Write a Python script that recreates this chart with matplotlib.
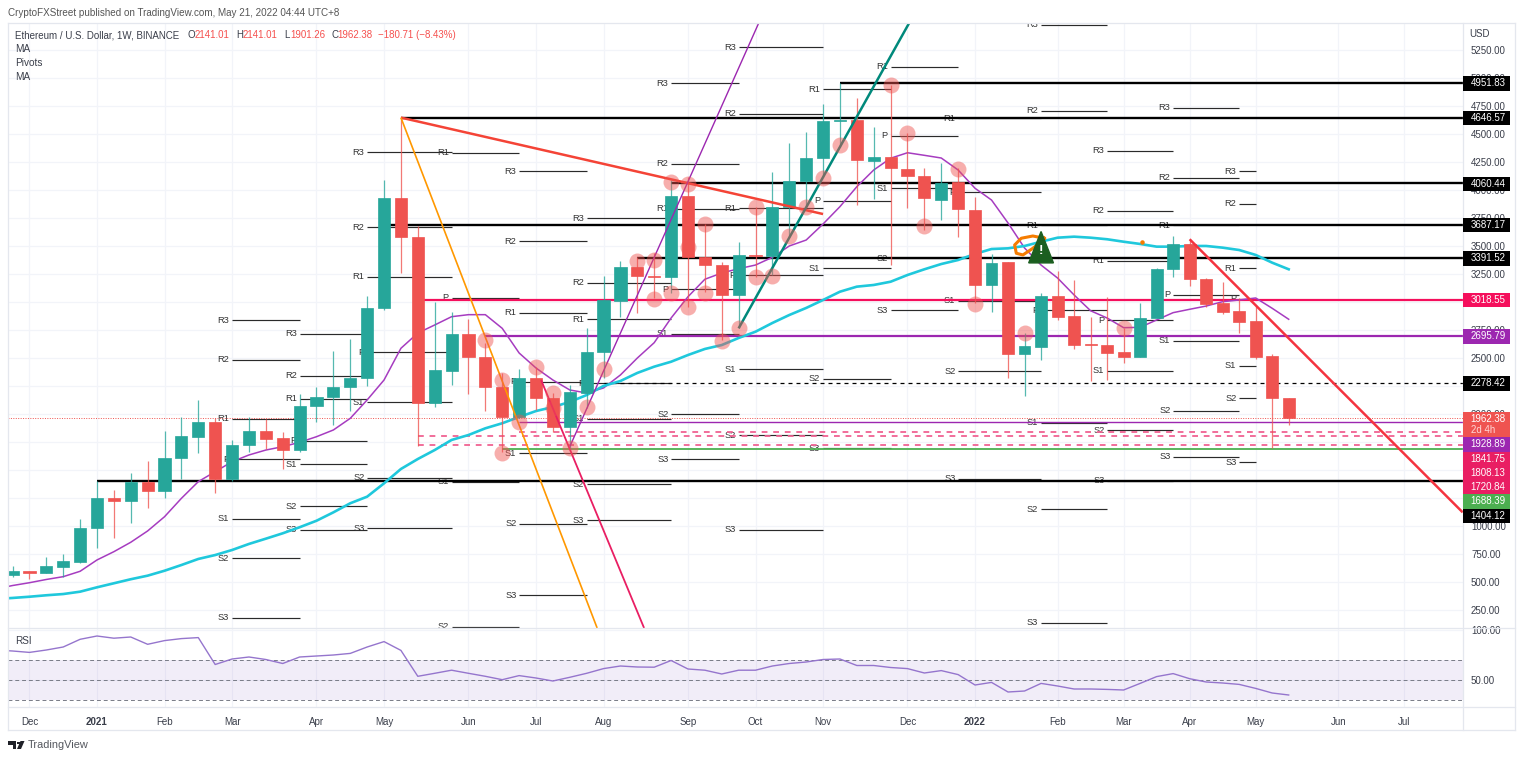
import numpy as np
import matplotlib
matplotlib.use("Agg")
import matplotlib.pyplot as plt
from matplotlib.patches import Rectangle, Polygon
from matplotlib.lines import Line2D

plt.rcParams['font.family'] = ['Liberation Sans', 'DejaVu Sans']

# ---------- weekly candles (week 0 = 30 Nov 2020) ----------
opens = [568,603,585,639,681,982,1252,1228,1395,1312,1609,1796,1933,1422,1722,1850,1785,1683,2076,2151,2240,2320,2945,3929,3584,2097,2388,2713,2508,2245,1978,2320,2142,1888,2186,2552,3010,3311,3236,3227,3950,3405,3329,3061,3421,3412,3846,4078,4286,4616,4623,4259,4292,4191,4126,3911,4069,3825,3150,3355,2537,2602,3055,2876,2624,2615,2555,2513,2856,3293,3516,3204,2990,2921,2829,2522,2141.01]
highs = [643,603,723,752,1062,1404,1321,1472,1582,1850,1978,2127,1969,1767,1972,1954,1838,2177,2240,2564,2674,3055,4090,4646,3677,3004,2909,2852,2635,2368,2403,2424,2186,2260,2766,3233,3367,3405,3436,4090,4119,3697,3361,3534,3852,4159,4417,4521,4768,4951,4819,4565,4938,4507,4200,4239,4194,3941,3430,3355,2722,3079,3280,3197,2870,3048,2769,2990,3307,3590,3561,3218,3182,3034,2974,2537,2141.01]
lows = [550,529,585,550,675,809,898,1026,1160,1249,1422,1656,1294,1404,1663,1687,1511,1663,1930,1903,2031,2254,2932,3263,1719,2067,2260,2177,2031,1665,1966,2037,1844,1680,2055,2323,2870,2900,3034,3084,2959,3093,2662,2766,3227,3242,3584,3852,4119,4387,3867,3918,3331,3837,3644,3733,3584,2990,2909,2320,2165,2484,2841,2579,2296,2305,2454,2508,2856,3227,3147,2959,2894,2722,2490,1696,1901.26]
closes = [603,585,643,687,984,1252,1228,1395,1312,1612,1808,1933,1422,1725,1850,1781,1683,2076,2151,2240,2320,2950,3929,3584,2097,2394,2713,2508,2243,1978,2320,2142,1888,2195,2552,3019,3311,3236,3227,3950,3400,3329,3061,3418,3412,3846,4084,4286,4616,4625,4268,4292,4197,4128,3927,4060,3828,3150,3347,2537,2608,3055,2870,2617,2615,2549,2513,2861,3296,3516,3204,2986,2915,2820,2513,2142,1962.38]

# moving averages, first value belongs to week -1
ma_short = [440,471,496,525,550,598,699,773,857,958,1085,1249,1398,1487,1576,1636,1680,1710,1749,1799,1859,1963,2127,2305,2588,2724,2796,2870,2888,2888,2766,2546,2412,2305,2216,2189,2234,2350,2501,2638,2858,3048,3204,3260,3298,3331,3400,3501,3554,3697,3852,4030,4179,4284,4333,4310,4286,4179,4016,3911,3706,3483,3331,3215,3064,2923,2858,2772,2775,2841,2906,2936,2965,3004,3019,3037,2945,2847]
ma_long = [351,360,371,384,395,416,455,491,527,559,603,654,708,743,788,842,889,937,991,1049,1124,1205,1264,1383,1511,1600,1680,1770,1814,1874,1919,1975,2028,2064,2109,2171,2252,2296,2368,2424,2468,2528,2582,2617,2680,2736,2814,2885,2948,3019,3093,3138,3153,3182,3242,3293,3340,3376,3430,3474,3480,3501,3539,3575,3584,3575,3561,3539,3519,3495,3495,3501,3501,3486,3465,3421,3352,3293]
rsi_values = [80,79,77.6,80,83,90.7,94,91.8,93,85.7,89.4,91.4,92.4,65.5,71,73,70.5,66.5,73,74,75,76.6,83,88.4,79.6,53.7,56.7,59.8,56.7,53.7,50.3,54.4,52,49,52.7,56.7,61.4,64,63,62.8,69.5,61,59.8,56,59.8,59.8,64,66.5,68,70.5,71,64.5,64.5,62.5,61.4,57,59.4,55.4,45,47.6,38,39,46.6,44,41,41,40.6,40,46.6,53.4,56.4,51.3,48,47,45.6,41.6,37,35]

# ---------- pivots: one column per period ----------
pivot_weeks = [13,17,21,26,30,34,39,43,48,52,56,61,65,69,73,74]
pivot_r3 = [2838,2718,4337,None,4167,3748,4953,5274,None,None,None,5476,4349,4735,4170]
pivot_r2 = [2484,2343,3668,None,3543,3171,4235,4681,5509,None,None,4706,3816,4108,3878]
pivot_r1 = [1957,2136,3227,4333,2903,2849,3831,3837,4899,5101,4643,3688,3370,3688,3302]
pivot_p = [1597,1761,2552,3037,2290,2276,3114,3242,3905,4483,3980,2927,2838,3066,3028]
pivot_s1 = [1065,1553,2106,1398,1651,1957,2718,2403,3302,4016,3013,1924,2388,2656,2433]
pivot_s2 = [714,1178,1431,104,1020,1374,1999,1814,2314,3391,2385,1151,1856,2031,2142]
pivot_s3 = [184,969,982,None,386,1053,1597,969,1696,2927,1424,139,1404,1618,1571]

# ---------- horizontal levels ----------
level_prices = [4951.83,4646.57,4060.44,3687.17,3391.52,1404.12,3018.55,2695.79,1928.89,1688.39]
level_starts = [49,23,39,22,37,5,24,28,30,29]
level_colors = ['#000000']*6 + ['#f50f5c','#9c27b0','#9c27b0','#4caf50']
level_widths = [1.7]*6 + [1.6,1.6,1.0,1.3]
dashed_prices = [2278.42,1841.75,1808.13,1720.84]
dashed_starts = [35,30,24,24]
dashed_colors = ['#000000','#f06292','#f06292','#f06292']
last_close = 1962.38

# ---------- trend lines: (week, price) pairs ----------
trend_red1 = ([23,48],[4646.57,3786])
trend_orange = ([23,34.62],[4646.57,92])
trend_purple = ([33,44.2],[1710,5494])
trend_pink = ([31.3,37.4],[2305,92])
trend_teal = ([43,53.1],[2766,5491])
trend_red2 = ([70,86.54],[3561,1124])

# alert circles
alert_weeks = [28,29,29,31,30,32,32,33,34,35,37,38,38,39,39,40,40,40,41,41,42,43,44,44,45,46,47,48,49,52,53,54,56,57,60,66]
alert_prices = [2662,2305,1654,2424,1933,2186,2055,1696,2067,2400,3367,3376,3028,3079,4075,4054,3495,2959,3697,3079,2656,2766,3846,3227,3233,3590,3846,4110,4402,4935,4507,3682,4185,2981,2727,2772]

doodle_weeks = [61.2,60.5,59.8,59.4,59.5,59.9,60.5,61,61.2]
doodle_prices = [3570,3590,3570,3510,3436,3421,3480,3539,3570]

month_weeks = [1,5,9,13,18,22,27,31,35,40,44,48,53,57,62,66,70,74,79,83]
month_labels = ['Dec','2021','Feb','Mar','Apr','May','Jun','Jul','Aug','Sep','Oct','Nov','Dec','2022','Feb','Mar','Apr','May','Jun','Jul']
price_ticks = list(range(250,5251,250))
covered_ticks = [1250,1500,1750,2250]

tag_labels = ['4951.83','4646.57','4060.44','3687.17','3391.52','3018.55','2695.79','2278.42','1928.89','1841.75','1808.13','1720.84','1688.39','1404.12']
tag_colors = ['#000000','#000000','#000000','#000000','#000000','#f50f5c','#9c27b0','#000000','#9c27b0','#e91e63','#e91e63','#e91e63','#4caf50','#000000']
tag_rows = [83.4,117.8,184,225,258.3,300.3,336.3,383.3,444.3,459,473,487.3,501.3,515.8]

# ---------- layout ----------
W, H = 1536, 760
L, R, T, M, B = 8, 1462.7, 23, 628, 707
UP, DOWN = '#26a69a', '#ef5350'
GRID = '#f2f4f9'
EDGE = '#e4e7ee'
TXT = '#3a3e4a'
FS = 7.0

fig = plt.figure(figsize=(W/100, H/100), dpi=100, facecolor='white')
ax = fig.add_axes([L/W, 1-M/H, (R-L)/W, (M-T)/H], zorder=1)
rsi = fig.add_axes([L/W, 1-B/H, (R-L)/W, (B-M)/H], zorder=0)

# the pane's time axis runs a little faster after January 2022
knot_w = np.array([-10., 57., 100.])
knot_x = np.array([-156.4, 975., 975+43*16.51])
def fwd(v): return np.interp(v, knot_w, knot_x)
def inv(v): return np.interp(v, knot_x, knot_w)
for a in (ax, rsi):
    a.set_xscale('function', functions=(fwd, inv))
    a.set_xlim(-0.27, 86.54)
    a.set_xticks(month_weeks)
    a.minorticks_off()
    a.grid(True, color=GRID, lw=0.9)
    a.set_axisbelow(True)
    for s in a.spines.values():
        s.set_visible(False)
    a.yaxis.tick_right()
    a.tick_params(axis='both', length=0, labelcolor=TXT, labelsize=FS)

ax.set_ylim((638.3-M)/0.11206, (638.3-T)/0.11206)
ax.set_yticks(price_ticks)
ax.set_yticklabels(['' if v in covered_ticks else f'{v:.2f}' for v in price_ticks])
ax.tick_params(axis='y', pad=6)
ax.tick_params(axis='x', labelbottom=False)

weeks = np.arange(len(closes))
o, h, l, c = map(np.array, (opens, highs, lows, closes))
cols = [UP if x >= y else DOWN for x, y in zip(c, o)]
ax.vlines(weeks, l, h, colors=cols, lw=0.9, alpha=0.78, zorder=3)
ax.bar(weeks, np.abs(c-o), bottom=np.minimum(o, c), width=0.72, color=cols, edgecolor=cols, lw=0.5, zorder=3.1)

ma_w = np.arange(-1, len(closes))
ax.plot(ma_w, ma_short, color='#a63cc0', lw=1.1, zorder=2.5)
ax.plot(ma_w, ma_long, color='#1fc8dc', lw=1.9, zorder=2.5)

for p, s, col, lw in zip(level_prices, level_starts, level_colors, level_widths):
    ax.hlines(p, s, 86.54, colors=col, lw=lw, zorder=2.2)
for p, s, col, lw in zip(dashed_prices, dashed_starts, dashed_colors, [0.9,1.3,1.3,1.3]):
    ax.hlines(p, s, 86.54, colors=col, lw=lw, linestyles=(0, (3.2, 3.2)), zorder=2.2)
ax.axhline(last_close, color=DOWN, lw=0.7, ls=(0, (1, 1.5)), zorder=2.2)

for name, values in [('R3',pivot_r3),('R2',pivot_r2),('R1',pivot_r1),('P',pivot_p),('S1',pivot_s1),('S2',pivot_s2),('S3',pivot_s3)]:
    for k, v in enumerate(values):
        if v is None:
            continue
        ax.hlines(v, pivot_weeks[k], pivot_weeks[k+1], colors='#2a2a2a', lw=0.85, zorder=2)
        ax.annotate(name, (pivot_weeks[k], v), xytext=(-2.0, 0), textcoords='offset points',
                    ha='right', va='center', fontsize=6.7, color='#333333',
                    annotation_clip=False, clip_on=True, zorder=2)

for t, col, lw in [(trend_red1,'#f44336',1.8),(trend_orange,'#ff9800',1.2),(trend_purple,'#9c27b0',1.0),
                   (trend_pink,'#e91e63',1.3),(trend_teal,'#00897b',1.8),(trend_red2,'#f4333f',1.8)]:
    ax.plot(t[0], t[1], color=col, lw=lw, zorder=4, solid_capstyle='butt')

ax.scatter(alert_weeks, alert_prices, s=132, color='#ef5350', alpha=0.47, lw=0, zorder=5)
ax.plot(doodle_weeks, doodle_prices, color='#f57c00', lw=2.2, zorder=5)
ax.scatter([67.1], [3539], s=5, color='#f57c00', zorder=5)
ax.add_patch(Polygon([(61, 3630), (60.25, 3350), (61.75, 3350)], closed=True, color='#1b5e20', zorder=5.5))
ax.text(61, 3458, '!', color='white', fontsize=9.5, fontweight='bold', ha='center', va='center', zorder=6)
ax.add_patch(Rectangle((1.0, 1-0.012), 0.04, 0.012, transform=ax.transAxes, color='white', clip_on=False, zorder=10))

# RSI pane
rsi.set_ylim(23, 102)
rsi.set_yticks([50, 100])
rsi.set_yticklabels(['50.00', '100.00'])
rsi.tick_params(axis='y', pad=6)
rsi.set_xticklabels(month_labels)
rsi.tick_params(axis='x', pad=7)
for lab, txt in zip(rsi.get_xticklabels(), month_labels):
    if txt.isdigit():
        lab.set_fontweight('bold')
rsi.axhspan(30, 70, color='#7e57c2', alpha=0.1, lw=0)
for lv in (70, 50, 30):
    rsi.axhline(lv, color='#787b86', lw=0.7, ls=(0, (4, 3)))
rsi.plot(ma_w, rsi_values, color='#9575cd', lw=1.0)

# ---------- frame and text in figure pixels ----------
def fx(x): return x/W
def fy(y): return 1-y/H
def px_text(x, y, s, **kw):
    kw.setdefault('fontsize', FS)
    kw.setdefault('color', TXT)
    kw.setdefault('va', 'center')
    return fig.text(fx(x), fy(y), s, **kw)
def hline(x0, x1, y):
    fig.add_artist(Line2D([fx(x0), fx(x1)], [fy(y), fy(y)], color=EDGE, lw=0.9, zorder=6))
def vline(x, y0, y1):
    fig.add_artist(Line2D([fx(x), fx(x)], [fy(y0), fy(y1)], color=EDGE, lw=0.9, zorder=6))
hline(L, 1515, T); hline(L, 1515, M); hline(L, 1515, B); hline(L, 1515, 730)
vline(L, T, 730); vline(R, T, 730); vline(1515, T, 730)

px_text(8, 12.5, 'CryptoFXStreet published on TradingView.com, May 21, 2022 04:44 UTC+8', color='#555555', fontsize=7.1)
px_text(15, 35, 'Ethereum / U.S. Dollar, 1W, BINANCE', fontsize=7.0)
RED = '#f5504e'
for xl, lab, xv, val in [(188,'O',195,'2141.01'),(236,'H',243,'2141.01'),(284,'L',290,'1901.26'),(331,'C',337,'1962.38')]:
    px_text(xl, 35, lab, fontsize=7.0)
    px_text(xv, 35, val, color=RED, fontsize=7.0)
px_text(378.3, 35, '\u2212180.71 (\u22128.43%)', color=RED, fontsize=7.0)
for y, s in [(49.5,'MA'),(63.5,'Pivots'),(77.5,'MA')]:
    px_text(15, y, s, fontsize=7.2)
px_text(15, 641, 'RSI', fontsize=7.2)
px_text(1469, 34, 'USD')

def tag(y0, y1, col):
    fig.add_artist(Rectangle((fx(R), fy(y1)), (1510-R)/W, (y1-y0)/H, color=col, lw=0, zorder=7))
for s, col, y in zip(tag_labels, tag_colors, tag_rows):
    tag(y-7, y+7.2, col)
    px_text(1470.7, y, s, color='white', zorder=8)
tag(411.7, 437.3, DOWN)
px_text(1470.7, 418.7, '1962.38', color='white', zorder=8)
px_text(1470.7, 430.5, '2d 4h', color='#ffd6d5', zorder=8)

# TradingView mark
LOGO = '#1f2128'
fig.add_artist(Polygon([(fx(8),fy(741)),(fx(16),fy(741)),(fx(16),fy(749)),(fx(12.5),fy(749)),(fx(12.5),fy(744.5)),(fx(8),fy(744.5))],
                       closed=True, color=LOGO, lw=0))
fig.add_artist(Polygon([(fx(20.5),fy(741)),(fx(24.5),fy(741)),(fx(21),fy(749)),(fx(17),fy(749))], closed=True, color=LOGO, lw=0))
fig.add_artist(Rectangle((fx(16.8),fy(744.3)), 2.8/W, 2.8/H, color=LOGO, lw=0))
px_text(28, 745, 'TradingView', color='#55585f', fontsize=7.9)

fig.savefig('out.png', dpi=100, facecolor='white')
